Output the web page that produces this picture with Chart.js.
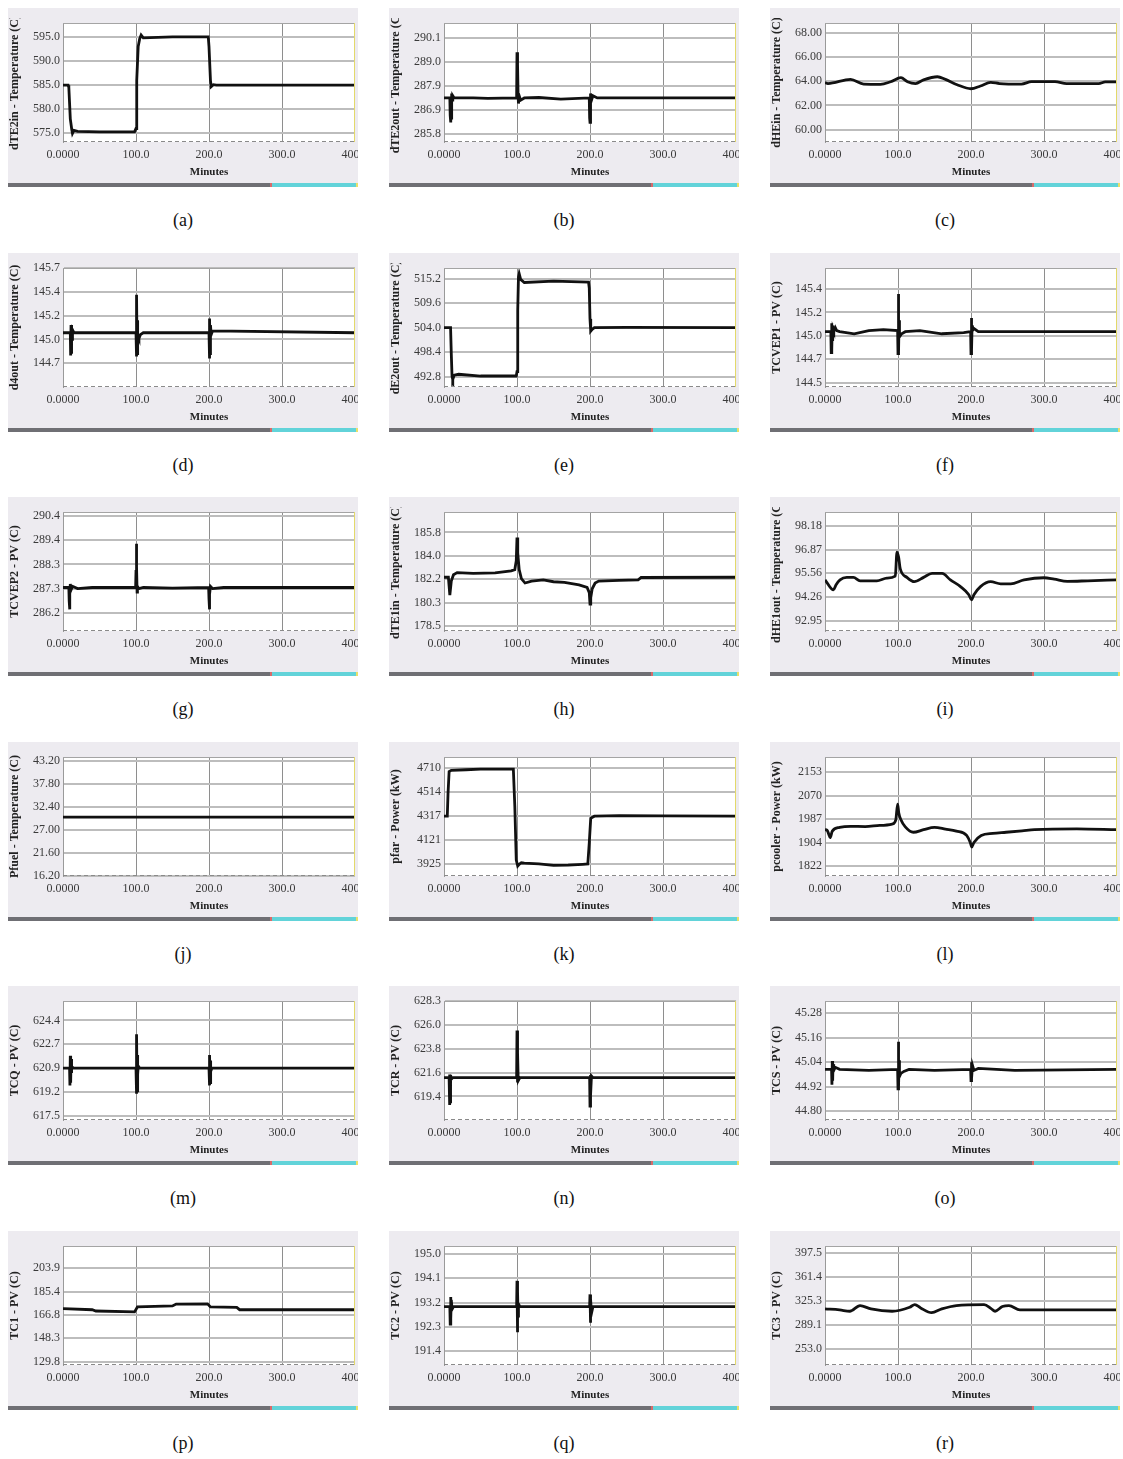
<!DOCTYPE html>
<html>
<head>
<meta charset="utf-8">
<script src="https://cdn.jsdelivr.net/npm/chart.js@4.4.0/dist/chart.umd.min.js"></script>
<style>
  body { margin: 0; background: #fff; }
  #page { position: relative; width: 1123px; height: 1459px; font-family: "Liberation Serif", "Times New Roman", serif; }
  .panel { position: absolute; width: 350px; height: 179px; background: #edebf0; }
  .panel canvas { position: absolute; left: 0; top: 10px; }
  .bar { position: absolute; top: 175px; height: 4px; }
  .cap { position: absolute; width: 80px; height: 22px; line-height: 22px; text-align: center; font-size: 18px; color: #111; }
</style>
</head>
<body>
<div id="page"></div>
<script>
const X_TICKS = [0, 100, 200, 300, 400];
const X_LABELS = ['0.0000', '100.0', '200.0', '300.0', '400.0'];

// (a)
const tA = [0, 7, 8, 10, 12, 13, 15, 20, 50, 98, 100, 101, 103, 105, 107, 110, 150, 199, 200, 202, 203, 206, 210, 400];
const vA = [585.0, 585.0, 584.5, 578.0, 575.8, 575.0, 575.6, 575.4, 575.3, 575.3, 576.0, 586.0, 593.0, 594.6, 595.4, 594.8, 595.0, 595.0, 593.0, 586.0, 584.7, 585.1, 585.0, 585.0];
const ticksA = [575, 580, 585, 590, 595];
const labelsA = ['575.0', '580.0', '585.0', '590.0', '595.0'];
const rangeA = [573.2, 597.9];

// (b)
const tB = [0, 8, 8.5, 9, 9.5, 10, 10.5, 11, 12, 14, 40, 60, 99.5, 100, 100.5, 101, 101.5, 102, 103, 105, 110, 130, 160, 199, 199.5, 200, 200.5, 201, 202, 204, 210, 400];
const vB = [287.4, 287.4, 286.6, 286.3, 287.0, 286.5, 287.6, 287.3, 287.5, 287.4, 287.4, 287.38, 287.4, 289.45, 288.0, 288.9, 287.5, 287.15, 287.5, 287.3, 287.4, 287.42, 287.35, 287.4, 286.5, 286.3, 287.0, 287.6, 287.3, 287.5, 287.4, 287.4];
const ticksB = [285.8, 286.875, 287.95, 289.025, 290.1];
const labelsB = ['285.8', '286.9', '287.9', '289.0', '290.1'];
const rangeB = [285.42, 290.77];

// (c)
const tC = [0, 4, 35, 53, 76, 90, 104, 113, 124, 135, 154, 165, 181, 200, 213, 227, 239, 269, 283, 315, 331, 375, 384, 400];
const vC = [63.87, 63.8, 64.14, 63.75, 63.73, 63.95, 64.28, 63.95, 63.8, 64.1, 64.36, 64.14, 63.7, 63.37, 63.6, 63.9, 63.8, 63.75, 63.95, 63.95, 63.8, 63.8, 63.93, 63.93];
const ticksC = [60, 62, 64, 66, 68];
const labelsC = ['60.00', '62.00', '64.00', '66.00', '68.00'];
const rangeC = [58.98, 68.79];

// (d)
const tD = [0, 10, 10.5, 11, 11.5, 12, 12.5, 13, 15, 100, 100.5, 101, 101.5, 102, 102.5, 103, 104, 106, 110, 200, 200.5, 201, 201.5, 202, 203, 205, 400];
const vD = [145.02, 145.02, 144.78, 145.1, 144.8, 145.08, 144.95, 145.05, 145.02, 145.02, 144.77, 145.42, 144.8, 145.15, 144.9, 144.98, 144.96, 145.0, 145.02, 145.02, 144.75, 145.17, 144.8, 145.1, 145.0, 145.04, 145.02];
const ticksD = [144.7, 144.95, 145.2, 145.45, 145.7];
const labelsD = ['144.7', '145.0', '145.2', '145.4', '145.7'];
const rangeD = [144.45, 145.7];

// (e)
const tE = [0, 9, 10, 11, 12, 14, 20, 50, 99, 100, 101, 102, 103, 105, 110, 150, 198, 199, 200, 201, 203, 206, 250, 400];
const vE = [504.0, 504.0, 498.0, 493.0, 492.2, 493.2, 493.4, 493.0, 493.0, 494.0, 508.0, 515.5, 516.3, 515.0, 514.3, 514.6, 514.4, 513.0, 506.0, 503.2, 503.6, 504.0, 504.1, 504.0];
const ticksE = [492.8, 498.4, 504.0, 509.6, 515.2];
const labelsE = ['492.8', '498.4', '504.0', '509.6', '515.2'];
const rangeE = [490.5, 517.6];

// (f)
const tF = [0, 8, 8.5, 9, 9.5, 10, 10.5, 11, 12, 14, 16, 20, 40, 60, 80, 99.5, 100, 100.5, 101, 101.5, 102, 103, 105, 110, 130, 160, 190, 199.5, 200, 200.5, 201, 201.5, 202, 204, 210, 400];
const vF = [144.99, 144.99, 144.79, 145.07, 144.82, 145.05, 144.9, 145.02, 145.0, 145.03, 145.0, 144.99, 144.97, 145.0, 145.01, 145.0, 144.78, 145.35, 144.8, 145.1, 144.96, 144.95, 144.97, 144.99, 145.0, 144.97, 144.98, 144.99, 144.78, 145.12, 144.82, 145.05, 145.0, 145.02, 144.99, 144.99];
const ticksF = [144.5, 144.725, 144.95, 145.175, 145.4];
const labelsF = ['144.5', '144.7', '145.0', '145.2', '145.4'];
const rangeF = [144.46, 145.6];

// (g)
const tG = [0, 8, 8.5, 9, 9.5, 10, 11, 13, 20, 40, 99.5, 100, 100.5, 101, 101.5, 102, 104, 110, 150, 199.5, 200, 200.5, 201, 202, 205, 220, 400];
const vG = [287.3, 287.3, 286.7, 286.35, 287.0, 287.45, 287.2, 287.35, 287.25, 287.3, 287.3, 288.0, 289.2, 288.2, 287.1, 287.35, 287.25, 287.3, 287.27, 287.3, 286.8, 286.35, 287.0, 287.35, 287.25, 287.3, 287.3];
const ticksG = [286.2, 287.25, 288.3, 289.35, 290.4];
const labelsG = ['286.2', '287.3', '288.3', '289.4', '290.4'];
const rangeG = [285.41, 290.58];

// (h)
const tH = [0, 6, 7, 8, 10, 13, 18, 40, 70, 92, 97, 99, 100, 101, 103, 106, 111, 120, 136, 150, 165, 185, 196, 199, 200, 201, 203, 207, 212, 240, 266, 270, 400];
const vH = [182.3, 182.3, 181.6, 180.9, 182.0, 182.5, 182.66, 182.6, 182.65, 182.8, 182.9, 183.6, 185.4, 184.2, 182.9, 182.2, 181.85, 182.0, 182.1, 181.95, 181.9, 181.7, 181.5, 181.1, 180.2, 180.7, 181.4, 181.85, 182.0, 182.05, 182.1, 182.28, 182.3];
const ticksH = [178.5, 180.325, 182.15, 183.975, 185.8];
const labelsH = ['178.5', '180.3', '182.2', '184.0', '185.8'];
const rangeH = [178.1, 187.4];

// (i)
const tI = [0, 1, 11.5, 15, 20.6, 29.8, 39, 48, 71, 84.8, 96.3, 98.6, 100.8, 103, 112.2, 122.3, 135, 146.6, 160.4, 171.8, 185.6, 197, 200.7, 204, 213, 227, 240.6, 254.4, 272.7, 300, 314, 332, 360, 400];
const vI = [95.2, 95.15, 94.65, 94.92, 95.2, 95.34, 95.34, 95.15, 95.15, 95.3, 95.41, 96.74, 96.47, 95.83, 95.34, 95.1, 95.34, 95.56, 95.56, 95.2, 94.83, 94.38, 94.1, 94.38, 94.83, 95.1, 94.98, 94.98, 95.2, 95.32, 95.24, 95.12, 95.15, 95.2];
const ticksI = [92.95, 94.2575, 95.565, 96.8725, 98.18];
const labelsI = ['92.95', '94.26', '95.56', '96.87', '98.18'];
const rangeI = [92.37, 98.96];

// (j)
const tJ = [0, 400];
const vJ = [30.0, 30.0];
const ticksJ = [16.2, 21.6, 27.0, 32.4, 37.8, 43.2];
const labelsJ = ['16.20', '21.60', '27.00', '32.40', '37.80', '43.20'];
const rangeJ = [16.2, 44.1];

// (k)
const tK = [0, 4.5, 5.5, 7, 10, 30, 50, 80, 95, 97, 99, 101, 103, 106, 110, 130, 150, 170, 190, 197, 199, 201, 204, 206, 240, 300, 400];
const vK = [4317, 4317, 4500, 4680, 4690, 4695, 4700, 4700, 4700, 4400, 3960, 3911, 3925, 3938, 3935, 3928, 3917, 3918, 3925, 3928, 4100, 4300, 4310, 4317, 4322, 4320, 4317];
const ticksK = [3925, 4121.25, 4317.5, 4513.75, 4710];
const labelsK = ['3925', '4121', '4317', '4514', '4710'];
const rangeK = [3830, 4799];

// (l)
const tL = [0, 3, 5, 7, 10, 20, 35, 55, 75, 92, 97, 99.5, 101, 104, 110, 121, 135, 150, 165, 180, 194, 199, 201, 204, 214, 230, 248, 270, 287, 345, 400];
const vL = [1950, 1948, 1935, 1922, 1945, 1958, 1962, 1961, 1965, 1970, 1985, 2040, 2010, 1985, 1960, 1941, 1950, 1958, 1952, 1945, 1930, 1905, 1889, 1905, 1930, 1937, 1941, 1946, 1950, 1953, 1950];
const ticksL = [1822, 1904.75, 1987.5, 2070.25, 2153];
const labelsL = ['1822', '1904', '1987', '2070', '2153'];
const rangeL = [1787, 2206];

// (m)
const tM = [0, 9, 9.5, 10, 10.5, 11, 11.5, 12, 14, 100, 100.5, 101, 101.5, 102, 102.5, 103, 105, 200, 200.5, 201, 201.5, 202, 202.5, 204, 400];
const vM = [620.95, 620.95, 619.7, 621.85, 619.9, 621.6, 620.6, 621.1, 620.95, 620.95, 619.1, 623.4, 619.3, 621.9, 620.5, 621.1, 620.95, 620.95, 619.7, 621.9, 619.9, 621.5, 620.7, 620.95, 620.95];
const ticksM = [617.5, 619.225, 620.95, 622.675, 624.4];
const labelsM = ['617.5', '619.2', '620.9', '622.7', '624.4'];
const rangeM = [617.2, 625.8];

// (n)
const tN = [0, 7, 7.5, 8, 8.5, 9, 10, 12, 99.5, 100, 100.5, 101, 101.5, 102, 104, 199.5, 200, 200.5, 201, 202, 204, 400];
const vN = [621.15, 621.15, 618.6, 621.45, 618.9, 621.4, 621.0, 621.15, 621.15, 625.55, 620.7, 623.5, 621.3, 620.9, 621.15, 621.15, 618.5, 621.4, 619.5, 621.3, 621.15, 621.15];
const ticksN = [619.4, 621.625, 623.85, 626.075, 628.3];
const labelsN = ['619.4', '621.6', '623.8', '626.0', '628.3'];
const rangeN = [617.2, 628.3];

// (o)
const tO = [0, 9, 9.5, 10, 10.5, 11, 12, 14, 20, 60, 99.5, 100, 100.5, 101, 101.5, 102, 104, 108, 115, 150, 199.5, 200, 200.5, 201, 202, 204, 210, 260, 400];
const vO = [45.005, 45.005, 44.93, 45.046, 44.95, 45.03, 45.0, 45.015, 45.005, 45.0, 45.005, 44.91, 45.14, 44.92, 45.05, 44.97, 44.985, 44.995, 45.005, 45.0, 45.005, 44.95, 45.04, 44.96, 45.025, 45.0, 45.01, 45.0, 45.005];
const ticksO = [44.8, 44.92, 45.04, 45.16, 45.28];
const labelsO = ['44.80', '44.92', '45.04', '45.16', '45.28'];
const rangeO = [44.757, 45.34];

// (p)
const tP = [0, 40, 45, 98, 102, 150, 155, 198, 202, 238, 242, 400];
const vP = [171.8, 171, 170, 169.3, 173.2, 174, 175.5, 175.7, 173.2, 172.8, 171, 171];
const ticksP = [129.8, 148.325, 166.85, 185.375, 203.9];
const labelsP = ['129.8', '148.3', '166.8', '185.4', '203.9'];
const rangeP = [127.2, 221.5];

// (q)
const tQ = [0, 8, 8.5, 9, 9.5, 10, 11, 13, 99.5, 100, 100.5, 101, 101.5, 102, 104, 199.5, 200, 200.5, 201, 202, 204, 400];
const vQ = [193.05, 193.05, 192.4, 193.4, 192.6, 193.3, 192.95, 193.05, 193.05, 194.0, 192.1, 193.6, 192.7, 193.15, 193.05, 193.05, 193.5, 192.45, 193.35, 192.8, 193.05, 193.05];
const ticksQ = [191.4, 192.3, 193.2, 194.1, 195.0];
const labelsQ = ['191.4', '192.3', '193.2', '194.1', '195.0'];
const rangeQ = [190.89, 195.29];

// (r)
const tR = [0, 20, 34, 48, 63, 92, 116, 123, 131, 146, 160, 180, 218, 228, 233, 243, 252, 267, 400];
const vR = [313.5, 312, 310, 318.5, 313.5, 310, 316, 320, 315, 307.8, 313.5, 318.5, 320, 313.5, 310, 317, 318.5, 312, 312];
const ticksR = [253.0, 289.125, 325.25, 361.375, 397.5];
const labelsR = ['253.0', '289.1', '325.3', '361.4', '397.5'];
const rangeR = [229.4, 407.8];

const panels = [
  { cap: '(a)', title: 'dTE2in - Temperature (C)', t: tA, v: vA, ticks: ticksA, labels: labelsA, range: rangeA },
  { cap: '(b)', title: 'dTE2out - Temperature (C)', t: tB, v: vB, ticks: ticksB, labels: labelsB, range: rangeB },
  { cap: '(c)', title: 'dHEin - Temperature (C)', t: tC, v: vC, ticks: ticksC, labels: labelsC, range: rangeC, smooth: true },
  { cap: '(d)', title: 'd4out - Temperature (C)', t: tD, v: vD, ticks: ticksD, labels: labelsD, range: rangeD },
  { cap: '(e)', title: 'dE2out - Temperature (C)', t: tE, v: vE, ticks: ticksE, labels: labelsE, range: rangeE },
  { cap: '(f)', title: 'TCVEP1 - PV (C)', t: tF, v: vF, ticks: ticksF, labels: labelsF, range: rangeF },
  { cap: '(g)', title: 'TCVEP2 - PV (C)', t: tG, v: vG, ticks: ticksG, labels: labelsG, range: rangeG },
  { cap: '(h)', title: 'dTE1in - Temperature (C)', t: tH, v: vH, ticks: ticksH, labels: labelsH, range: rangeH },
  { cap: '(i)', title: 'dHE1out - Temperature (C)', t: tI, v: vI, ticks: ticksI, labels: labelsI, range: rangeI, smooth: true },
  { cap: '(j)', title: 'Pfuel - Temperature (C)', t: tJ, v: vJ, ticks: ticksJ, labels: labelsJ, range: rangeJ },
  { cap: '(k)', title: 'pfar - Power (kW)', t: tK, v: vK, ticks: ticksK, labels: labelsK, range: rangeK },
  { cap: '(l)', title: 'pcooler - Power (kW)', t: tL, v: vL, ticks: ticksL, labels: labelsL, range: rangeL, smooth: true },
  { cap: '(m)', title: 'TCQ - PV (C)', t: tM, v: vM, ticks: ticksM, labels: labelsM, range: rangeM },
  { cap: '(n)', title: 'TCR - PV (C)', t: tN, v: vN, ticks: ticksN, labels: labelsN, range: rangeN },
  { cap: '(o)', title: 'TCS - PV (C)', t: tO, v: vO, ticks: ticksO, labels: labelsO, range: rangeO },
  { cap: '(p)', title: 'TC1 - PV (C)', t: tP, v: vP, ticks: ticksP, labels: labelsP, range: rangeP },
  { cap: '(q)', title: 'TC2 - PV (C)', t: tQ, v: vQ, ticks: ticksQ, labels: labelsQ, range: rangeQ },
  { cap: '(r)', title: 'TC3 - PV (C)', t: tR, v: vR, ticks: ticksR, labels: labelsR, range: rangeR, smooth: true }
];

const colX = [8, 389, 770];
const FONT = 'Liberation Serif';

// white plot area, grey top edge, dashed bottom edge, yellow right edge
const frame = {
  id: 'frame',
  beforeDraw(chart) {
    const { ctx, chartArea: a } = chart;
    ctx.save();
    ctx.fillStyle = '#fff';
    ctx.fillRect(a.left, a.top, a.right - a.left, a.bottom - a.top);
    ctx.restore();
  },
  afterDraw(chart) {
    const { ctx, chartArea: a } = chart;
    ctx.save();
    ctx.lineWidth = 1;
    ctx.strokeStyle = '#a4a4a4';
    ctx.beginPath(); ctx.moveTo(a.left, a.top + 0.5); ctx.lineTo(a.right, a.top + 0.5); ctx.stroke();
    ctx.strokeStyle = '#8a8a8a';
    ctx.setLineDash([4, 3]);
    ctx.beginPath(); ctx.moveTo(a.left, a.bottom - 0.5); ctx.lineTo(a.right, a.bottom - 0.5); ctx.stroke();
    ctx.setLineDash([]);
    ctx.strokeStyle = '#e3d96a';
    ctx.beginPath(); ctx.moveTo(a.right - 0.5, a.top); ctx.lineTo(a.right - 0.5, a.bottom); ctx.stroke();
    ctx.restore();
  }
};

function noPad(s) {
  s.paddingLeft = 0; s.paddingRight = 0; s.paddingTop = 0; s.paddingBottom = 0;
}

function makeChart(canvas, p) {
  return new Chart(canvas, {
    type: 'line',
    data: {
      datasets: [{
        data: p.t.map((x, i) => ({ x, y: p.v[i] })),
        borderColor: '#111',
        borderWidth: 2.8,
        pointRadius: 0,
        fill: false,
        tension: p.smooth ? 0.4 : 0,
        cubicInterpolationMode: p.smooth ? 'monotone' : 'default'
      }]
    },
    options: {
      responsive: false,
      animation: false,
      events: [],
      layout: { autoPadding: false, padding: { left: 0, right: 3, top: 5, bottom: 0 } },
      plugins: { legend: { display: false }, tooltip: { enabled: false } },
      scales: {
        x: {
          type: 'linear', min: 0, max: 400,
          afterBuildTicks: s => { s.ticks = X_TICKS.map(value => ({ value })); },
          afterFit: s => { s.height = 41; noPad(s); },
          ticks: { autoSkip: false, maxRotation: 0, padding: 6, color: '#3a3a3a', font: { family: FONT, size: 12 },
            callback: (v, i) => X_LABELS[i] },
          grid: { drawTicks: false, lineWidth: 1,
            color: c => (c.tick && (c.tick.value === 0 || c.tick.value === 400)) ? 'rgba(0,0,0,0)' : '#8e8e8e' },
          border: { display: false },
          title: { display: true, text: 'Minutes', color: '#222', padding: { top: 0, bottom: 4 },
            font: { family: FONT, size: 11, weight: 'bold' } }
        },
        y: {
          min: p.range[0], max: p.range[1],
          afterBuildTicks: s => { s.ticks = p.ticks.map(value => ({ value })); },
          afterFit: s => { s.width = 55; noPad(s); },
          ticks: { autoSkip: false, padding: 3, color: '#3a3a3a', font: { family: FONT, size: 12 },
            callback: (v, i) => p.labels[i] },
          grid: { drawTicks: false, color: '#bdbdbd', lineWidth: 2 },
          border: { color: '#9a9a9a' },
          title: { display: true, text: p.title, color: '#222', padding: 0,
            font: { family: FONT, size: 12, weight: 'bold' } }
        }
      }
    },
    plugins: [frame]
  });
}

const page = document.getElementById('page');
panels.forEach((p, k) => {
  const row = Math.floor(k / 3), col = k % 3;
  const top = Math.round(8 + row * 244.6), left = colX[col];
  const panel = document.createElement('div');
  panel.className = 'panel';
  panel.style.left = left + 'px';
  panel.style.top = top + 'px';
  panel.innerHTML = `
    <canvas width="350" height="165"></canvas>
    <div class="bar" style="left:0;width:262px;background:#6f6f74"></div>
    <div class="bar" style="left:262px;width:2px;background:#d86a6a"></div>
    <div class="bar" style="left:264px;width:84px;background:#62d3d9"></div>
    <div class="bar" style="left:348px;width:2px;background:#e9e06a"></div>`;
  page.appendChild(panel);
  makeChart(panel.querySelector('canvas'), p);

  const cap = document.createElement('div');
  cap.className = 'cap';
  cap.textContent = p.cap;
  cap.style.left = (left + 175 - 40) + 'px';
  cap.style.top = (top + 201) + 'px';
  page.appendChild(cap);
});
</script>
</body>
</html>
